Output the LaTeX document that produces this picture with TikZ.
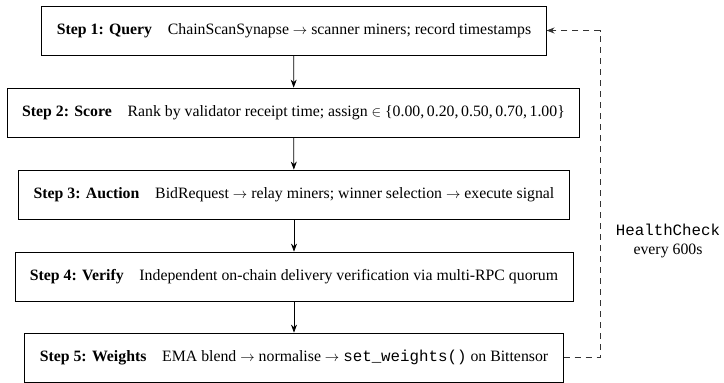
\documentclass[tikz,border=0pt]{standalone}
\usepackage{fontspec}
\setmainfont{Liberation Serif}
\setmonofont{Liberation Mono}
\usetikzlibrary{arrows.meta}
\begin{document}
\begin{tikzpicture}[x=1pt,y=-1pt,
  stepbox/.style={draw, line width=0.8pt, minimum height=49pt, inner xsep=15pt, inner ysep=0pt, anchor=center,
    font=\fontsize{15.8}{19}\selectfont},
  flow/.style={-{Stealth[length=8pt,width=6pt]}, line width=0.7pt},
  loop/.style={dashed, dash pattern=on 6pt off 5pt, line width=0.7pt, black!80, -{Stealth[length=8pt,width=6pt]}}
]
\useasboundingbox (0,0) rectangle (724,383);
\node[stepbox] (s1) at (294,30.5) {\textbf{Step 1: Query}\quad ChainScanSynapse $\rightarrow$ scanner miners; record timestamps};
\node[stepbox] (s2) at (293.5,112.5) {\textbf{Step 2: Score}\quad Rank by validator receipt time; assign $\in$ \{0.00,\,0.20,\,0.50,\,0.70,\,1.00\}};
\node[stepbox] (s3) at (294,194.5) {\textbf{Step 3: Auction}\quad BidRequest $\rightarrow$ relay miners; winner selection $\rightarrow$ execute signal};
\node[stepbox] (s4) at (294,276.5) {\textbf{Step 4: Verify}\quad Independent on-chain delivery verification via multi-RPC quorum};
\node[stepbox] (s5) at (294,357.5) {\textbf{Step 5: Weights}\quad EMA blend $\rightarrow$ normalise $\rightarrow$ \texttt{set\_weights()} on Bittensor};
\draw[flow] (s1) -- (s2);
\draw[flow] (s2) -- (s3);
\draw[flow] (s3) -- (s4);
\draw[flow] (s4) -- (s5);
\coordinate (r) at (600,0);
\draw[loop] (s5.east) -| (r |- s1.east) -- (s1.east);
\node[align=center, font=\fontsize{15.8}{19}\selectfont, inner sep=0pt] (hc) at (668,241) {\texttt{HealthCheck}\\every 600s};
\end{tikzpicture}
\end{document}
